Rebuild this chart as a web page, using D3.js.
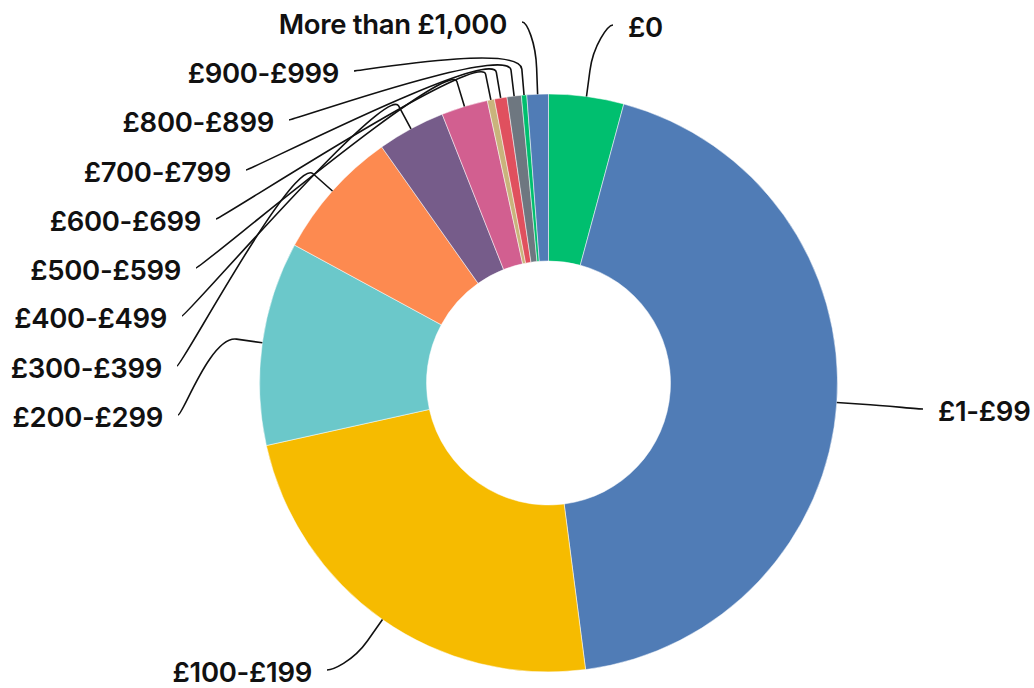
<!DOCTYPE html>
<html>
<head>
<meta charset="utf-8">
<script src="https://cdn.jsdelivr.net/npm/d3@7"></script>
<style>
  html, body { margin: 0; padding: 0; background: #ffffff; }
  svg { display: block; }
  .label { font-family: Inter, "Open Sans", sans-serif; font-size: 27.5px; font-weight: 600; letter-spacing: -0.3px; fill: #111111; }
</style>
</head>
<body>
<svg id="chart" width="1034" height="688"></svg>
<script>
// Spending bands and their share of respondents (%)
const categories = ["£0", "£1-£99", "£100-£199", "£200-£299", "£300-£399", "£400-£499",
                    "£500-£599", "£600-£699", "£700-£799", "£800-£899", "£900-£999", "More than £1,000"];
const shares = [4.2, 43.8, 23.6, 11.4, 7.3, 3.8, 2.6, 0.4, 0.7, 0.8, 0.3, 1.2];
const palette = ["#00BF6F", "#507CB6", "#F6BB00", "#6BC8CA", "#FD8A50", "#765C8A",
                 "#D25F90", "#C9B47C", "#E0505E", "#6E7780", "#00BF6F", "#507CB6"];

// Label placement: text anchor x, text centre y, alignment
const labelLayout = [
  [628, 27, "start"],
  [938, 411, "start"],
  [312, 672, "end"],
  [163, 417, "end"],
  [162, 368, "end"],
  [167, 318, "end"],
  [181, 270, "end"],
  [201, 221, "end"],
  [231, 172, "end"],
  [274, 122, "end"],
  [339, 73, "end"],
  [507, 24, "end"]
];

const cx = 548.5, cy = 383, outerR = 289, innerR = 122;
const breakOffset = 26;   // where the connector bends, beyond the outer edge
const connectorGap = 15;  // space between connector end and text

const svg = d3.select("#chart");
const g = svg.append("g").attr("transform", `translate(${cx},${cy})`);

const data = categories.map((c, i) => ({ name: c, value: shares[i], color: palette[i], i }));

const pie = d3.pie().value(d => d.value).sort(null).startAngle(0).endAngle(2 * Math.PI);
const arcs = pie(data);

const arc = d3.arc().innerRadius(innerR).outerRadius(outerR);

g.selectAll("path.slice")
  .data(arcs)
  .join("path")
  .attr("class", "slice")
  .attr("d", arc)
  .attr("fill", d => d.data.color)
  .attr("stroke", "#ffffff")
  .attr("stroke-width", 0.5);

function polar(angle, r) {
  return [Math.sin(angle) * r, -Math.cos(angle) * r];
}

// Connectors: soft curve from label to a break point, then straight to the slice
const connectors = g.append("g").attr("class", "connectors");
const labels = svg.append("g").attr("class", "labels");

arcs.forEach((a, i) => {
  const mid = (a.startAngle + a.endAngle) / 2;
  const touch = polar(mid, outerR);
  const brk = polar(mid, outerR + breakOffset);
  const [lx, ly, anchor] = labelLayout[i];
  const sign = anchor === "start" ? -1 : 1;
  const end = [lx + sign * connectorGap - cx, ly - 2 - cy];
  const c1 = [end[0] + sign * 5, end[1]];
  const c2 = [2 * brk[0] - touch[0], 2 * brk[1] - touch[1]];
  const p = d3.path();
  p.moveTo(end[0], end[1]);
  p.bezierCurveTo(c1[0], c1[1], c2[0], c2[1], brk[0], brk[1]);
  p.lineTo(touch[0], touch[1]);
  connectors.append("path")
    .attr("d", p.toString())
    .attr("fill", "none")
    .attr("stroke", "#111111")
    .attr("stroke-width", 1.6);

  labels.append("text")
    .attr("class", "label")
    .attr("x", lx)
    .attr("y", ly)
    .attr("dy", "0.36em")
    .attr("text-anchor", anchor)
    .text(a.data.name);
});
</script>
</body>
</html>
